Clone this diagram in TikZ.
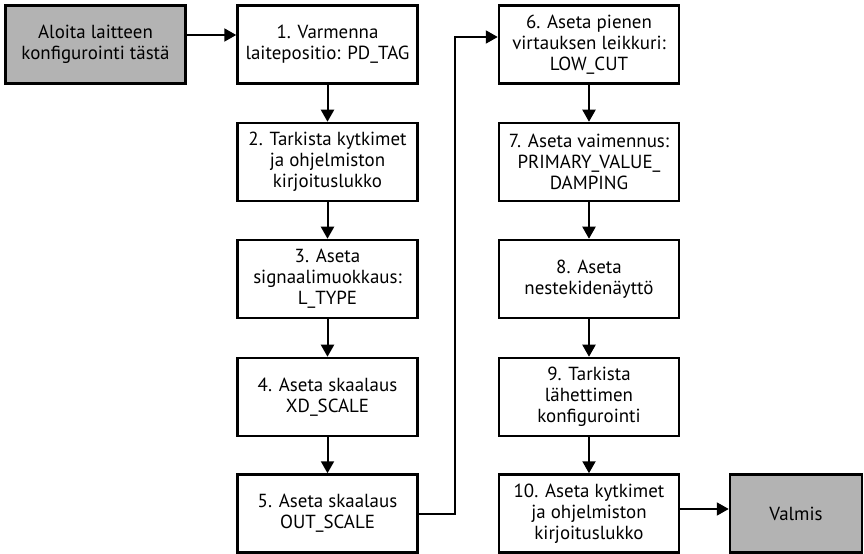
\documentclass[tikz,border=0pt]{standalone}
\usepackage{fontspec}
\setmainfont{PT Sans}
\usetikzlibrary{arrows.meta}
\definecolor{boxgray}{HTML}{B3B3B3}
\begin{document}
\begin{tikzpicture}[x=1bp,y=-1bp,
  box/.style={draw, line width=2.5bp, minimum width=180bp, minimum height=78bp,
    align=center, inner sep=1bp, font=\fontsize{19}{21}\selectfont},
  gbox/.style={box, fill=boxgray},
  arr/.style={line width=2bp, -{Triangle[length=12bp,width=13bp]}}]
\useasboundingbox (0,0) rectangle (864,554);
\node[gbox] (s) at (95.5,44.5) {Aloita laitteen\\konfigurointi tästä};
\node[box] (b1) at (327.5,44.5) {1. Varmenna\\laitepositio: PD\_TAG};
\node[box] (b2) at (327.5,162) {2. Tarkista kytkimet\\ja ohjelmiston\\kirjoituslukko};
\node[box] (b3) at (327.5,279) {3. Aseta\\signaalimuokkaus:\\L\_TYPE};
\node[box] (b4) at (327.5,397) {4. Aseta skaalaus\\XD\_SCALE};
\node[box] (b5) at (327.5,513.5) {5. Aseta skaalaus\\OUT\_SCALE};
\node[box] (b6) at (589,44.5) {6. Aseta pienen\\virtauksen leikkuri:\\LOW\_CUT};
\node[box] (b7) at (589,162) {7. Aseta vaimennus:\\PRIMARY\_VALUE\_\\DAMPING};
\node[box] (b8) at (589,279) {8. Aseta\\nestekidenäyttö};
\node[box] (b9) at (589,397) {9. Tarkista\\lähettimen\\konfigurointi};
\node[box] (b10) at (589,513.5) {10. Aseta kytkimet\\ja ohjelmiston\\kirjoituslukko};
\node[gbox, minimum width=132bp] (v) at (796,513.5) {Valmis};
\draw[arr] ([yshift=9.5bp]s.east) -- ([yshift=9.5bp]b1.west);
\draw[arr] (b1) -- (b2);
\draw[arr] (b2) -- (b3);
\draw[arr] (b3) -- (b4);
\draw[arr] (b4) -- (b5);
\coordinate (j1) at (455,37);
\draw[arr] (b5.east) -| (j1) -- (j1 -| b6.west);
\draw[arr] (b6) -- (b7);
\draw[arr] (b7) -- (b8);
\draw[arr] (b8) -- (b9);
\draw[arr] (b9) -- (b10);
\draw[arr] ([yshift=4.5bp]b10.east) -- ([yshift=4.5bp]v.west);
\end{tikzpicture}
\end{document}
